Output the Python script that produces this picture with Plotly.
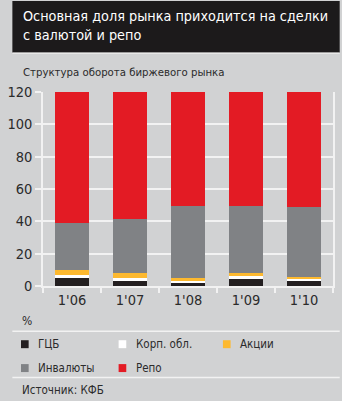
import plotly.graph_objects as go

# ---- data ----
categories = ["1'06", "1'07", "1'08", "1'09", "1'10"]
series_names = ["ГЦБ", "Корп. обл.", "Акции", "Инвалюты", "Репо"]
gcb = [4.8, 3.2, 2.4, 4.4, 3.6]
corp = [2.1, 1.6, 1.2, 1.6, 1.0]
stocks = [2.8, 3.3, 1.2, 2.1, 1.1]
fx = [29.4, 33.4, 44.7, 41.4, 43.2]
repo = [80.9, 78.5, 70.5, 70.5, 71.1]
y_ticks = [0, 20, 40, 60, 80, 100, 120]

title_text = "Основная доля рынка приходится на сделки<br>с валютой и репо"
subtitle_text = "Структура оборота биржевого рынка"
unit_text = "%"
source_text = "Источник: КФБ"

colors = ["#231f20", "#ffffff", "#fdb92f", "#808285", "#e31b24"]
values = [gcb, corp, stocks, fx, repo]

FONT = "DejaVu Sans Condensed, Roboto, sans-serif"
BG = "#d1d2d3"
TXT = "#2b2b2b"

W, H = 342, 401
L, R, T, B = 32, 7, 91.5, 114.5
pw = W - L - R
ph = H - T - B

def px2x(p):
    return (p - L) / pw

def px2y(p):
    return (H - B - p) / ph

fig = go.Figure()
for name, vals, col in zip(series_names, values, colors):
    fig.add_trace(go.Bar(x=categories, y=vals, name=name, marker_color=col,
                         marker_line_width=0, showlegend=False))

shapes = [
    dict(type="rect", xref="paper", yref="paper", x0=px2x(0), x1=px2x(W),
         y0=px2y(0), y1=px2y(52), fillcolor="#1c1a1b", line_width=0, layer="below"),
    dict(type="line", xref="paper", yref="paper", x0=px2x(0), x1=px2x(W),
         y0=px2y(52.5), y1=px2y(52.5), line=dict(color="#efefef", width=1.2)),
    dict(type="line", xref="paper", yref="paper", x0=px2x(0), x1=px2x(W),
         y0=px2y(332), y1=px2y(332), line=dict(color="#f2f2f2", width=1.5)),
    dict(type="line", xref="paper", yref="paper", x0=px2x(0), x1=px2x(W),
         y0=px2y(378.5), y1=px2y(378.5), line=dict(color="#f2f2f2", width=1.5)),
]

annotations = [
    dict(text=title_text, xref="paper", yref="paper", x=px2x(9), y=px2y(5),
         xanchor="left", yanchor="top", align="left", showarrow=False,
         font=dict(family=FONT, size=14.3, color="#ffffff")),
    dict(text=subtitle_text, xref="paper", yref="paper", x=px2x(9), y=px2y(71.5),
         xanchor="left", yanchor="middle", showarrow=False,
         font=dict(family=FONT, size=11.3, color=TXT)),
    dict(text=unit_text, xref="paper", yref="paper", x=px2x(8), y=px2y(322),
         xanchor="left", yanchor="middle", showarrow=False,
         font=dict(family=FONT, size=12, color=TXT)),
    dict(text=source_text, xref="paper", yref="paper", x=px2x(8), y=px2y(391),
         xanchor="left", yanchor="middle", showarrow=False,
         font=dict(family=FONT, size=11.5, color=TXT)),
]

# manual legend
leg_pos = [(9, 345), (111, 345), (220, 345), (9, 369), (111, 369)]
for name, col, (lx, ly) in zip(series_names, colors, leg_pos):
    shapes.append(dict(type="rect", xref="paper", yref="paper",
                       x0=px2x(lx), x1=px2x(lx + 8), y0=px2y(ly - 4), y1=px2y(ly + 4),
                       fillcolor=col, line_width=0))
    annotations.append(dict(text=name, xref="paper", yref="paper", x=px2x(lx + 16),
                            y=px2y(ly), xanchor="left", yanchor="middle", showarrow=False,
                            font=dict(family=FONT, size=11.5, color=TXT)))

fig.update_layout(
    width=W, height=H,
    margin=dict(l=L, r=R, t=T, b=B, pad=0),
    barmode="stack", bargap=0.43,
    paper_bgcolor=BG, plot_bgcolor=BG,
    font=dict(family=FONT, color=TXT),
    shapes=shapes, annotations=annotations,
    xaxis=dict(showgrid=False, tickson="boundaries", ticks="outside", ticklen=5,
               tickcolor="#f2f2f2", tickwidth=1.5, showline=True, linecolor="#f2f2f2",
               linewidth=1.5, tickfont=dict(family=FONT, size=14.5, color=TXT)),
    yaxis=dict(range=[0, 120], tickvals=y_ticks, showgrid=True, gridcolor="#f2f2f2",
               gridwidth=1.5, ticks="outside", ticklen=6, tickcolor="#f2f2f2",
               tickwidth=1.5, showline=True, mirror=True, linecolor="#f2f2f2",
               linewidth=1.5, zeroline=False,
               tickfont=dict(family=FONT, size=14.5, color=TXT)),
)

fig.write_html("out.html")
